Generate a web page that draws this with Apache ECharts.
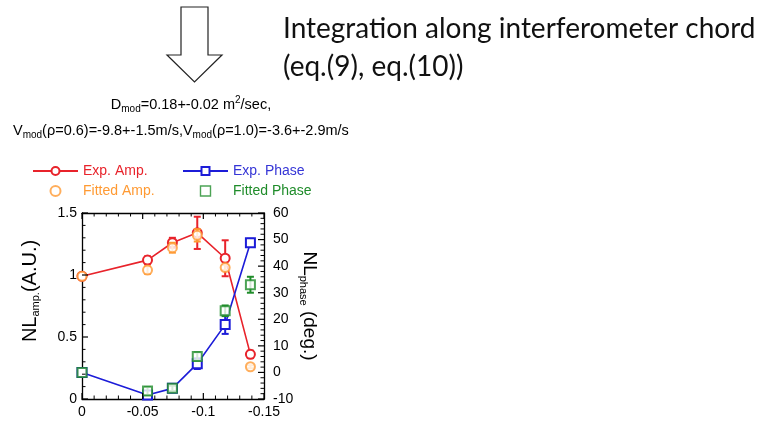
<!DOCTYPE html>
<html>
<head>
<meta charset="utf-8">
<script src="https://cdn.jsdelivr.net/npm/echarts@6/dist/echarts.min.js"></script>
<style>
  html, body { margin: 0; padding: 0; background: #fff; }
  #chart { width: 769px; height: 421px; }
</style>
</head>
<body>
<div id="chart"></div>
<script>
// Normalised radius position (x) of each measurement
const xValues = [0, -0.054, -0.0745, -0.095, -0.118, -0.1388];

// NL amplitude (A.U.) and its uncertainty
const expAmp = [0.99, 1.12, 1.26, 1.34, 1.135, 0.36];
const expAmpErr = [0, 0.03, 0.04, 0.13, 0.145, 0.03];
const fitAmp = [0.99, 1.04, 1.22, 1.32, 1.06, 0.26];
const fitAmpErr = [0, 0.03, 0.04, 0.05, 0.02, 0.012];

// NL phase (deg.) and its uncertainty
const expPhase = [0, -8.5, -6, 3.3, 18, 48.8];
const expPhaseErr = [0, 1.5, 1, 2, 3.5, 1.5];
const fitPhase = [0, -7, -6, 6, 23.2, 33];
const fitPhaseErr = [0, 1.5, 1, 1.5, 2, 3];

// Axis ranges and major steps (minor ticks split each step in 5)
const xRange = [-0.15, 0, 0.05];
const ampRange = [0, 1.5, 0.5];
const phaseRange = [-10, 60, 10];

const RED = '#e8232b', BLUE = '#1c1cd8', ORANGE = '#ff9a33', GREEN = '#1f8c2a';
const FONT = 'Liberation Sans, Arial, sans-serif';

const pairs = (ys) => xValues.map((x, i) => [x, ys[i]]);
const bars = (ys, errs) => xValues
  .map((x, i) => [x, ys[i] - errs[i], ys[i] + errs[i]])
  .filter((r, i) => errs[i] > 0);

// tick values along a range: [value, isMajor]
function tickValues(range) {
  const [lo, hi, step] = range;
  const n = Math.round((hi - lo) / step) * 5;
  const out = [];
  for (let k = 0; k <= n; k++) out.push([lo + (hi - lo) * k / n, k % 5 === 0 ? 1 : 0]);
  return out;
}

// Amplitude lives on grid 0 (bottom/left axes), phase on grid 1 (top/right axes);
// both grids occupy the same box and share the same x range.
function errorBarSeries(name, ys, errs, color, axisIndex, z) {
  return {
    name: name,
    type: 'custom',
    xAxisIndex: axisIndex,
    yAxisIndex: axisIndex,
    z: z,
    silent: true,
    data: bars(ys, errs),
    encode: { x: 0, y: [1, 2] },
    renderItem: function (params, api) {
      const x = api.value(0);
      const lo = api.coord([x, api.value(1)]);
      const hi = api.coord([x, api.value(2)]);
      const half = 3.5;
      const style = { stroke: color, lineWidth: 2 };
      return {
        type: 'group',
        children: [
          { type: 'line', shape: { x1: lo[0], y1: lo[1], x2: hi[0], y2: hi[1] }, style: style },
          { type: 'line', shape: { x1: hi[0] - half, y1: hi[1], x2: hi[0] + half, y2: hi[1] }, style: style },
          { type: 'line', shape: { x1: lo[0] - half, y1: lo[1], x2: lo[0] + half, y2: lo[1] }, style: style }
        ]
      };
    }
  };
}

// Inward frame ticks placed through the axes' own coordinate mapping.
// side: 'bottom' | 'top' (ticks along x) or 'left' | 'right' (ticks along y)
function frameTickSeries(side, axisIndex, range, otherRange) {
  const alongX = side === 'bottom' || side === 'top';
  const edge = (side === 'bottom' || side === 'left') ? otherRange[0] : otherRange[1];
  const dirs = { bottom: [0, -1], top: [0, 1], left: [1, 0], right: [-1, 0] };
  const d = dirs[side];
  const inverseX = alongX;
  return {
    type: 'custom',
    xAxisIndex: axisIndex,
    yAxisIndex: axisIndex,
    silent: true,
    z: 7,
    clip: false,
    data: tickValues(range),
    encode: alongX ? { x: 0 } : { y: 0 },
    renderItem: function (params, api) {
      const v = api.value(0);
      const len = api.value(1) ? 6 : 3.5;
      let p;
      if (alongX) p = api.coord([v, edge]);
      else p = api.coord([side === 'left' ? xRange[1] : xRange[0], v]);
      return {
        type: 'line',
        shape: { x1: p[0], y1: p[1], x2: p[0] + d[0] * len, y2: p[1] + d[1] * len },
        style: { stroke: '#000', lineWidth: api.value(1) ? 1.2 : 1 }
      };
    }
  };
}

function frameAxis(extra) {
  return Object.assign({
    type: 'value',
    axisLine: { show: true, onZero: false, lineStyle: { color: '#000', width: 1.3 } },
    axisTick: { show: false },
    minorTick: { show: false },
    splitLine: { show: false },
    minorSplitLine: { show: false }
  }, extra);
}

const plotBox = { left: 82, top: 213, width: 182, height: 186, containLabel: false };

const chart = echarts.init(document.getElementById('chart'));

chart.setOption({
  animation: false,
  backgroundColor: '#fff',
  grid: [Object.assign({}, plotBox), Object.assign({}, plotBox)],
  xAxis: [
    frameAxis({
      gridIndex: 0, position: 'bottom', inverse: true,
      min: xRange[0], max: xRange[1], interval: xRange[2],
      axisLabel: {
        color: '#000', fontSize: 14, fontFamily: FONT, margin: 6,
        formatter: (v) => (Math.abs(v) < 1e-9 ? '0' : String(+v.toFixed(2)))
      }
    }),
    frameAxis({
      gridIndex: 1, position: 'top', inverse: true,
      min: xRange[0], max: xRange[1], interval: xRange[2],
      axisLabel: { show: false }
    })
  ],
  yAxis: [
    frameAxis({
      gridIndex: 0, position: 'left',
      min: ampRange[0], max: ampRange[1], interval: ampRange[2],
      axisLabel: { color: '#000', fontSize: 14, fontFamily: FONT, margin: 5 }
    }),
    frameAxis({
      gridIndex: 1, position: 'right',
      min: phaseRange[0], max: phaseRange[1], interval: phaseRange[2],
      axisLabel: { color: '#000', fontSize: 14, fontFamily: FONT, margin: 9 }
    })
  ],
  legend: [
    {
      orient: 'vertical', left: 27, top: 159, itemWidth: 45, itemHeight: 10, itemGap: 6,
      textStyle: { fontSize: 14, fontFamily: FONT },
      data: [
        { name: 'Exp. Amp.', textStyle: { color: RED } },
        { name: 'Fitted Amp.', textStyle: { color: ORANGE } }
      ]
    },
    {
      orient: 'vertical', left: 177, top: 159, itemWidth: 45, itemHeight: 10, itemGap: 6,
      textStyle: { fontSize: 14, fontFamily: FONT },
      data: [
        { name: 'Exp. Phase', textStyle: { color: '#3535d6' } },
        {
          name: 'Fitted Phase', textStyle: { color: GREEN },
          icon: 'path://M0,0L10,0L10,10L0,10Z',
          itemStyle: { color: 'rgba(255,255,255,0)', borderColor: GREEN, borderWidth: 1.4 }
        }
      ]
    }
  ],
  series: [
    frameTickSeries('bottom', 0, xRange, ampRange),
    frameTickSeries('left', 0, ampRange, xRange),
    frameTickSeries('top', 1, xRange, phaseRange),
    frameTickSeries('right', 1, phaseRange, xRange),
    errorBarSeries('amp-err', expAmp, expAmpErr, RED, 0, 3),
    errorBarSeries('phase-err', expPhase, expPhaseErr, BLUE, 1, 3),
    {
      name: 'Exp. Amp.', type: 'line', xAxisIndex: 0, yAxisIndex: 0, z: 4,
      data: pairs(expAmp),
      symbol: 'emptyCircle', symbolSize: 9,
      lineStyle: { color: RED, width: 1.6 },
      itemStyle: { color: RED, borderColor: RED, borderWidth: 1.4 }
    },
    {
      name: 'Exp. Phase', type: 'line', xAxisIndex: 1, yAxisIndex: 1, z: 4,
      data: pairs(expPhase),
      symbol: 'emptyRect', symbolSize: 9,
      lineStyle: { color: BLUE, width: 1.6 },
      itemStyle: { color: BLUE, borderColor: BLUE, borderWidth: 1.4 }
    },
    errorBarSeries('fit-amp-err', fitAmp, fitAmpErr, ORANGE, 0, 5),
    errorBarSeries('fit-phase-err', fitPhase, fitPhaseErr, GREEN, 1, 5),
    {
      name: 'Fitted Amp.', type: 'scatter', xAxisIndex: 0, yAxisIndex: 0, z: 6,
      data: pairs(fitAmp),
      symbol: 'emptyCircle', symbolSize: 9,
      itemStyle: { color: ORANGE, borderColor: ORANGE, borderWidth: 1.4 }
    },
    {
      name: 'Fitted Phase', type: 'scatter', xAxisIndex: 1, yAxisIndex: 1, z: 6,
      data: pairs(fitPhase),
      symbol: 'emptyRect', symbolSize: 9,
      itemStyle: { color: GREEN, borderColor: GREEN, borderWidth: 1.4 }
    }
  ],
  graphic: [
    // hollow down arrow
    {
      type: 'polygon',
      shape: { points: [[181, 7], [208, 7], [208, 55], [222, 55], [194.5, 82], [167, 55], [181, 55]] },
      style: { fill: '#fff', stroke: '#222', lineWidth: 1.2 }
    },
    {
      type: 'text', x: 283, y: 29,
      style: {
        text: 'Integration along interferometer chord',
        font: '28px Lato, "Open Sans", sans-serif', fill: '#111', verticalAlign: 'middle'
      }
    },
    {
      type: 'text', x: 283, y: 67,
      style: {
        text: '(eq.(9), eq.(10))',
        font: '28px Lato, "Open Sans", sans-serif', fill: '#111', verticalAlign: 'middle'
      }
    },
    // model parameters
    {
      type: 'text', x: 191, y: 105,
      style: {
        text: 'D{sub|mod}=0.18+-0.02 m{sup|2}/sec,',
        fontSize: 14.5, fontFamily: FONT, fill: '#000',
        lineHeight: 19, align: 'center', verticalAlign: 'middle',
        rich: {
          sub: { fontSize: 10, lineHeight: 10, padding: [9, 0, 0, 0] },
          sup: { fontSize: 10, lineHeight: 10, padding: [0, 0, 9, 0] }
        }
      }
    },
    {
      type: 'text', x: 13, y: 131,
      style: {
        text: 'V{sub|mod}(ρ=0.6)=-9.8+-1.5m/s,V{sub|mod}(ρ=1.0)=-3.6+-2.9m/s',
        fontSize: 14.5, fontFamily: FONT, fill: '#000',
        lineHeight: 19, align: 'left', verticalAlign: 'middle',
        rich: {
          sub: { fontSize: 10, lineHeight: 10, padding: [9, 0, 0, 0] }
        }
      }
    },
    // axis titles
    {
      type: 'text', x: 30, y: 291, rotation: Math.PI / 2,
      style: {
        text: 'NL{sub|amp.}(A.U.)',
        fontSize: 20, fontFamily: FONT, fill: '#000',
        lineHeight: 24, align: 'center', verticalAlign: 'middle',
        rich: { sub: { fontSize: 11, lineHeight: 12, padding: [12, 0, 0, 0] } }
      }
    },
    {
      type: 'text', x: 309, y: 306, rotation: -Math.PI / 2,
      style: {
        text: 'NL{sub|phase} (deg.)',
        fontSize: 19, fontFamily: FONT, fill: '#000',
        lineHeight: 24, align: 'center', verticalAlign: 'middle',
        rich: { sub: { fontSize: 11, lineHeight: 12, padding: [12, 0, 0, 0] } }
      }
    }
  ]
});
</script>
</body>
</html>
